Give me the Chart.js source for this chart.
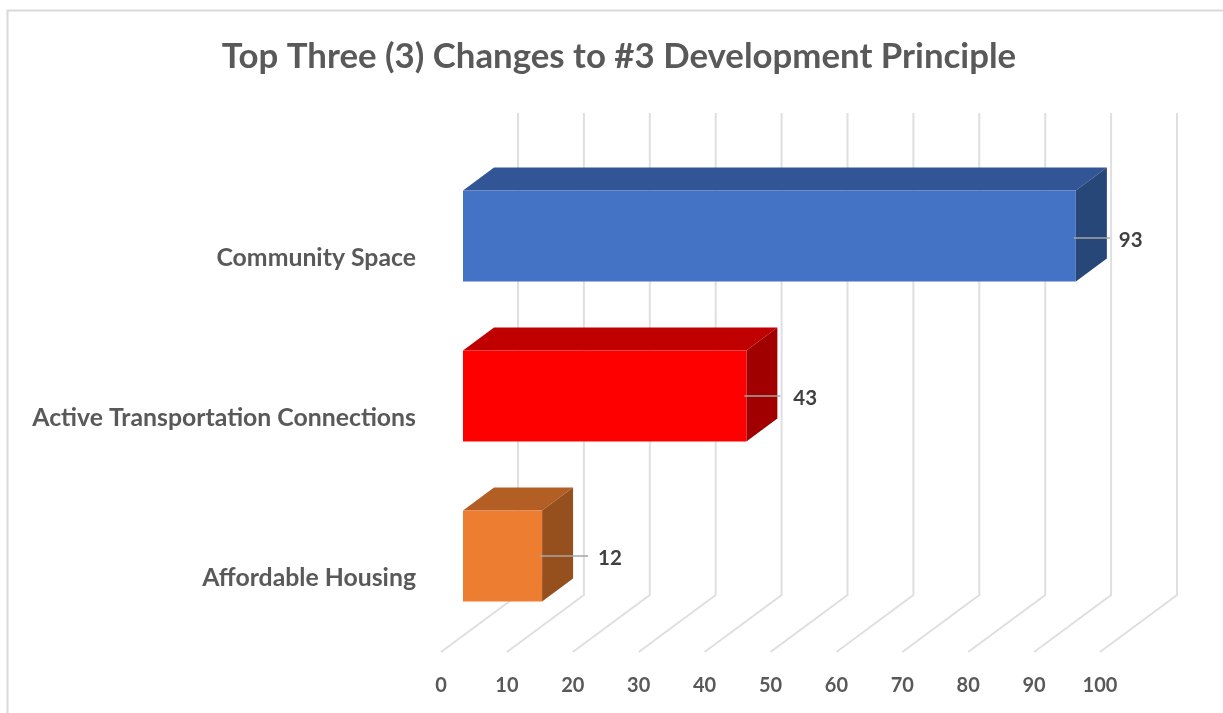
<!DOCTYPE html>
<html>
<head>
<meta charset="utf-8">
<script src="https://cdn.jsdelivr.net/npm/chart.js@4"></script>
<style>
html,body{margin:0;padding:0;background:#fff;overflow:hidden}
#wrap{width:1223px;height:713px;position:relative}
</style>
</head>
<body>
<div id="wrap"><canvas id="c" width="1223" height="713"></canvas></div>
<script>
const categories = ["Community Space", "Active Transportation Connections", "Affordable Housing"];
const values = [93, 43, 12];
const frontColors = ["#4472C4", "#FF0000", "#ED7D31"];
const topColors = ["#325695", "#C00000", "#B35E24"];
const sideColors = ["#284779", "#A00000", "#96501D"];
const titleText = "Top Three (3) Changes to #3 Development Principle";

const FONT = "Lato, Carlito, sans-serif";
const depth = {dx: 31, dy: -23};      // bar extrusion
const shift = {dx: 22, dy: -22};      // front face of bars vs. the floor edge
const wall = {dx: 77, top: 113, base: 595, floor: 652};
const leaderLen = [34, 34, 46];
const labelGap = [43, 47, 56];

const threeD = {
  id: 'threeD',
  afterLayout(chart) {
    // labels are clipped to the scale box: open it to the canvas edge
    chart.scales.y.left = 0;
  },
  beforeDraw(chart) {
    const ctx = chart.ctx;
    ctx.save();
    ctx.strokeStyle = '#D9D9D9';
    ctx.lineWidth = 2;
    ctx.beginPath();
    ctx.moveTo(7.5, 713);
    ctx.lineTo(7.5, 10.5);
    ctx.lineTo(1223, 10.5);
    ctx.stroke();
    ctx.restore();
  },
  beforeDatasetsDraw(chart) {
    const ctx = chart.ctx, xs = chart.scales.x;
    ctx.save();
    ctx.strokeStyle = '#DFDFDF';
    ctx.lineWidth = 2;
    xs.ticks.forEach(t => {
      const x = xs.getPixelForValue(t.value);
      ctx.beginPath();
      ctx.moveTo(x + wall.dx, wall.top);
      ctx.lineTo(x + wall.dx, wall.base);
      ctx.lineTo(x, wall.floor);
      ctx.stroke();
    });
    ctx.restore();
    ctx.save();
    ctx.translate(shift.dx, shift.dy);
    chart.getDatasetMeta(0).data.forEach((b, i) => {
      const x0 = b.base, x1 = b.x, y0 = b.y - b.height / 2, y1 = b.y + b.height / 2;
      ctx.fillStyle = topColors[i];
      ctx.beginPath();
      ctx.moveTo(x0, y0);
      ctx.lineTo(x0 + depth.dx, y0 + depth.dy);
      ctx.lineTo(x1 + depth.dx, y0 + depth.dy);
      ctx.lineTo(x1, y0);
      ctx.closePath();
      ctx.fill();
      ctx.fillStyle = sideColors[i];
      ctx.beginPath();
      ctx.moveTo(x1, y0);
      ctx.lineTo(x1 + depth.dx, y0 + depth.dy);
      ctx.lineTo(x1 + depth.dx, y1 + depth.dy);
      ctx.lineTo(x1, y1);
      ctx.closePath();
      ctx.fill();
    });
  },
  afterDatasetsDraw(chart) {
    const ctx = chart.ctx;
    ctx.restore();
    ctx.save();
    chart.getDatasetMeta(0).data.forEach((b, i) => {
      const x = b.x + shift.dx, y = b.y + shift.dy;
      ctx.strokeStyle = '#A6A6A6';
      ctx.lineWidth = 1.5;
      ctx.beginPath();
      ctx.moveTo(x - 2, y + (i === 0 ? 2 : 0));
      ctx.lineTo(x + leaderLen[i], y + (i === 0 ? 2 : 0));
      ctx.stroke();
      ctx.fillStyle = '#404040';
      ctx.font = 'bold 20.5px ' + FONT;
      ctx.textAlign = 'left';
      ctx.textBaseline = 'middle';
      ctx.fillText(String(values[i]), x + labelGap[i], y + (i === 0 ? 4 : 2));
    });
    ctx.restore();
  }
};

new Chart(document.getElementById('c'), {
  type: 'bar',
  plugins: [threeD],
  data: {
    labels: categories,
    datasets: [{
      data: values,
      backgroundColor: frontColors,
      borderWidth: 0,
      barPercentage: 0.57,
      categoryPercentage: 1,
      clip: false
    }]
  },
  options: {
    indexAxis: 'y',
    responsive: false,
    animation: false,
    layout: {padding: {left: 138, right: 123, top: 0, bottom: 0}},
    plugins: {
      legend: {display: false},
      tooltip: {enabled: false},
      title: {
        display: true,
        text: titleText,
        color: '#595959',
        font: {family: FONT, size: 34.8, weight: 'bold', lineHeight: 1.2},
        padding: {top: 36, bottom: 100.24}
      }
    },
    scales: {
      x: {
        min: 0, max: 100,
        afterFit: s => { s.height = 55; },
        grid: {display: false, drawTicks: false},
        border: {display: false},
        ticks: {stepSize: 10, maxRotation: 0, autoSkip: false, color: '#595959', padding: 16,
                font: {family: FONT, size: 20, weight: 'bold'}}
      },
      y: {
        afterFit: s => { s.width = 303; },
        grid: {display: false, drawTicks: false},
        border: {display: false},
        ticks: {color: '#595959', padding: 25, autoSkip: false,
                font: {family: FONT, size: 24.8, weight: 'bold'}}
      }
    }
  }
});
</script>
</body>
</html>
